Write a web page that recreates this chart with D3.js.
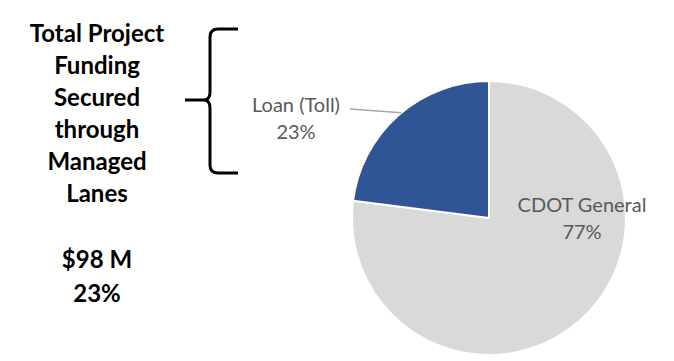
<!DOCTYPE html>
<html>
<head>
<meta charset="utf-8">
<script src="https://cdn.jsdelivr.net/npm/d3@7"></script>
<style>
  html, body { margin: 0; padding: 0; background: #fff; }
  svg { display: block; }
</style>
</head>
<body>
<svg id="chart" width="674" height="361"></svg>
<script>
// Funding sources (percent of total project funding)
const categories = ["CDOT General", "Loan (Toll)"];
const values = [77, 23];
const colors = ["#D9D9D9", "#2F5597"];

// Side note text
const titleLines = ["Total Project", "Funding", "Secured", "through", "Managed", "Lanes"];
const summaryLines = ["$98 M", "23%"];

const svg = d3.select("#chart");
const font = "Lato, 'Open Sans', sans-serif";

// ---- Pie ----
const cx = 489, cy = 218, r = 137;
const pie = d3.pie().sort(null).value(d => d)(values);
const arc = d3.arc().innerRadius(0).outerRadius(r);

const g = svg.append("g").attr("transform", `translate(${cx},${cy})`);
g.selectAll("path")
  .data(pie)
  .join("path")
  .attr("d", arc)
  .attr("fill", (d, i) => colors[i])
  .attr("stroke", "#fff")
  .attr("stroke-width", 2)
  .attr("stroke-linejoin", "round");

// Data labels
const pct = d3.format(".0%");
const labelStyle = sel => sel
  .attr("font-family", font)
  .attr("font-size", 20)
  .attr("fill", "#595959")
  .attr("text-anchor", "middle");

// CDOT General label sits inside its slice, upper right
const l0 = g.append("text").call(labelStyle);
l0.append("tspan").attr("x", 93).attr("y", -6).text(categories[0]);
l0.append("tspan").attr("x", 93).attr("y", 21).text(pct(values[0] / 100));

// Loan label sits outside with a leader line
const loan = pie[1];
const leadAngle = loan.startAngle + (loan.endAngle - loan.startAngle) * 0.52;
const lx = Math.sin(leadAngle) * r, ly = -Math.cos(leadAngle) * r;
g.append("path")
  .attr("d", `M${lx},${ly} L${-139},${-109}`)
  .attr("stroke", "#A6A6A6")
  .attr("stroke-width", 1.5)
  .attr("fill", "none");

const l1 = g.append("text").call(labelStyle);
l1.append("tspan").attr("x", -193).attr("y", -106).text(categories[1]);
l1.append("tspan").attr("x", -193).attr("y", -79).text(pct(values[1] / 100));

// ---- Left-hand note ----
const noteStyle = sel => sel
  .attr("font-family", font)
  .attr("font-weight", 700)
  .attr("font-size", 24)
  .attr("fill", "#000")
  .attr("text-anchor", "middle");
const note = svg.append("text").call(noteStyle);
titleLines.forEach((t, i) => {
  note.append("tspan").attr("x", 97).attr("y", 42 + i * 32).text(t);
});
const summary = svg.append("text").call(noteStyle);
summaryLines.forEach((t, i) => {
  summary.append("tspan").attr("x", 97).attr("y", 268 + i * 34).text(t);
});

// Curly brace grouping the note
const bx = 210, bTop = 29, bBot = 173, bMid = 100;
svg.append("path")
  .attr("d", `M238,${bTop} L218,${bTop} Q${bx},${bTop} ${bx},${bTop + 8} L${bx},${bMid - 8} Q${bx},${bMid} ${bx - 6},${bMid} L185,${bMid}
              M${bx - 6},${bMid} Q${bx},${bMid} ${bx},${bMid + 8} L${bx},${bBot - 8} Q${bx},${bBot} 218,${bBot} L238,${bBot}`)
  .attr("fill", "none")
  .attr("stroke", "#000")
  .attr("stroke-width", 3)
  .attr("stroke-linecap", "butt");
</script>
</body>
</html>
